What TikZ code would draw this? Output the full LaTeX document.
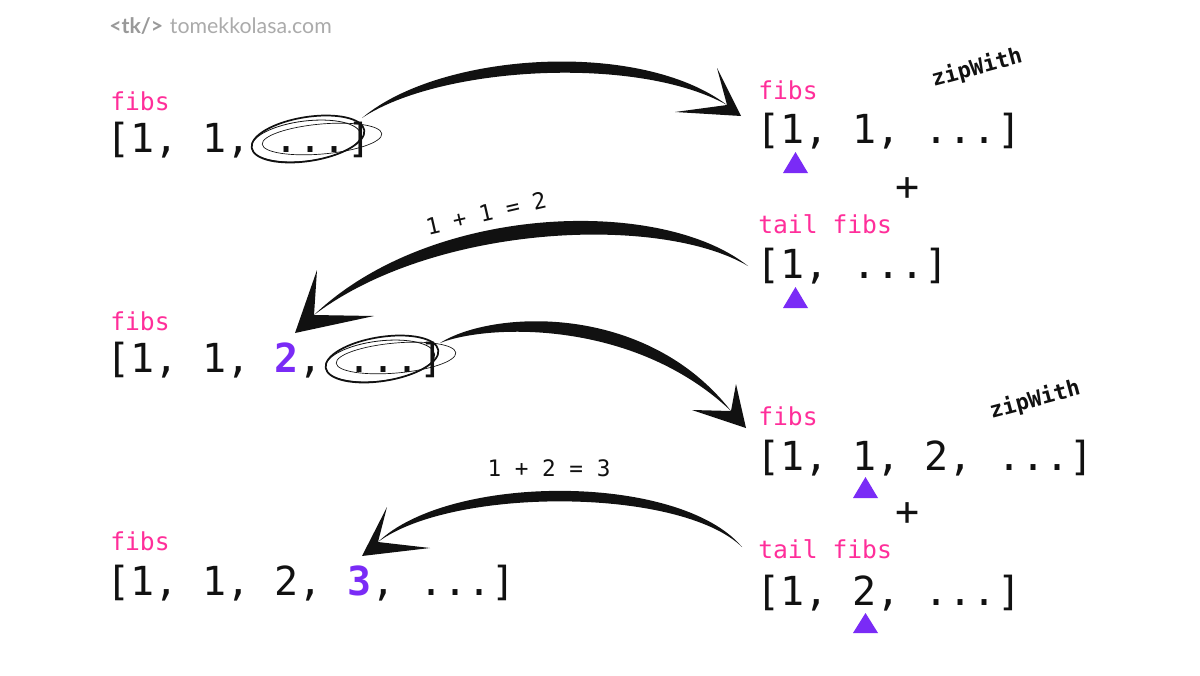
\documentclass[tikz,border=0pt]{standalone}
\usepackage{fontspec}
\setmainfont{DejaVu Sans Mono}
\newfontfamily\wmfont{Lato}
\definecolor{fibpink}{HTML}{FF2E9A}
\definecolor{fibpurple}{HTML}{7A2BF6}
\definecolor{wmgray}{HTML}{ABABAB}
\definecolor{wmdark}{HTML}{999999}
\definecolor{ink}{HTML}{111111}
\begin{document}
\begin{tikzpicture}[x=0.75pt,y=-0.75pt,
  listtxt/.style={anchor=base west,inner sep=0pt,font=\fontsize{30}{34}\selectfont,text=ink},
  nametxt/.style={anchor=base west,inner sep=0pt,font=\fontsize{18.5}{22}\selectfont,text=fibpink},
  sumtxt/.style={inner sep=0pt,font=\fontsize{17}{20}\selectfont,text=ink},
  ziptxt/.style={inner sep=0pt,font=\fontsize{16.5}{20}\selectfont\bfseries,text=ink,rotate=15},
  plustxt/.style={inner sep=0pt,font=\fontsize{30}{34}\selectfont,text=ink},
  ptr/.style={fill=fibpurple},
  inkfill/.style={fill=ink},
  scrib/.style={draw=ink,line width=0.8pt}]
\useasboundingbox[fill=white] (0,0) rectangle (1200,675);

% watermark
\node[anchor=base west,inner sep=0pt,font=\wmfont\fontsize{16}{19}\selectfont,text=wmgray] (wm) at (109,33)
  {{\bfseries\color{wmdark}<tk/>}\hspace{5pt}tomekkolasa.com};

% left column
\node[nametxt] (n1) at (110,110) {fibs};
\node[listtxt] (l1) at (106,152) {[1, 1, ...]};
\node[nametxt] (n2) at (110,330) {fibs};
\node[listtxt] (l2) at (106,372) {[1, 1, {\bfseries\color{fibpurple}2}, ...]};
\node[nametxt] (n3) at (110,550) {fibs};
\node[listtxt] (l3) at (106,595) {[1, 1, 2, {\bfseries\color{fibpurple}3}, ...]};

% right column, block 1
\node[nametxt] (r1n) at (758,99) {fibs};
\node[listtxt] (r1l) at (756,143) {[1, 1, ...]};
\node[plustxt] (r1p) at (908,189) {+};
\node[nametxt] (r1tn) at (758,233) {tail fibs};
\node[listtxt] (r1tl) at (756,278) {[1, ...]};
\node[ziptxt] (z1) at (977,68) {zipWith};
\fill[ptr] (783,173) -- (808,173) -- (795.5,152) -- cycle;
\fill[ptr] (783,308) -- (808,308) -- (795.5,287) -- cycle;

% right column, block 2
\node[nametxt] (r2n) at (758,425) {fibs};
\node[listtxt] (r2l) at (756,470) {[1, 1, 2, ...]};
\node[plustxt] (r2p) at (908,514) {+};
\node[nametxt] (r2tn) at (758,558) {tail fibs};
\node[listtxt] (r2tl) at (756,605) {[1, 2, ...]};
\node[ziptxt] (z2) at (1035,400) {zipWith};
\fill[ptr] (853,498) -- (878,498) -- (865.5,477) -- cycle;
\fill[ptr] (853,633) -- (878,633) -- (865.5,613) -- cycle;

% sum labels
\node[sumtxt,rotate=13] (s1) at (486,213) {1 + 1 = 2};
\node[sumtxt] (s2) at (549,468) {1 + 2 = 3};

% scribbled ellipses
\draw[scrib,line width=1.3pt,rotate around={9:(308,139)}] (308,139) ellipse [x radius=57,y radius=22];
\draw[scrib,line width=0.6pt,rotate around={7:(306,141)}] (306,141) ellipse [x radius=55,y radius=20];
\draw[scrib,line width=0.5pt,rotate around={5:(322,139)}] (322,139) ellipse [x radius=60,y radius=15];

\draw[scrib,line width=1.3pt,rotate around={9:(382,359)}] (382,359) ellipse [x radius=57,y radius=22];
\draw[scrib,line width=0.6pt,rotate around={7:(380,361)}] (380,361) ellipse [x radius=55,y radius=20];
\draw[scrib,line width=0.5pt,rotate around={5:(396,358)}] (396,358) ellipse [x radius=60,y radius=15];

% arrow 1
\coordinate (a1s) at (362,118);
\coordinate (a1e) at (727,105);
\coordinate (a1t) at (741,116);
\coordinate (a1b1) at (717,68);
\coordinate (a1b2) at (675,112);
\fill[inkfill] (a1s) .. controls (440,52) and (640,39) .. (a1e) .. controls (638,55) and (440,66) .. (a1s) -- cycle;
\fill[inkfill] (a1t) -- (a1b1) -- (a1e) -- (a1b2) -- cycle;

% arrow 2
\coordinate (a2s) at (748,266);
\coordinate (a2e) at (314,315);
\coordinate (a2t) at (295,333);
\coordinate (a2b1) at (317,270);
\coordinate (a2b2) at (374,316);
\fill[inkfill] (a2s) .. controls (660,196) and (430,204) .. (a2e) .. controls (434,224) and (660,214) .. (a2s) -- cycle;
\fill[inkfill] (a2t) -- (a2b1) -- (a2e) -- (a2b2) -- cycle;

% arrow 3
\coordinate (a3s) at (440,343);
\coordinate (a3e) at (731,411);
\coordinate (a3t) at (746,428);
\coordinate (a3b1) at (736,384);
\coordinate (a3b2) at (692,410);
\fill[inkfill] (a3s) .. controls (492,310) and (646,302) .. (a3e) .. controls (634,319) and (488,324) .. (a3s) -- cycle;
\fill[inkfill] (a3t) -- (a3b1) -- (a3e) -- (a3b2) -- cycle;

% arrow 4
\coordinate (a4s) at (742,547);
\coordinate (a4e) at (378,542);
\coordinate (a4t) at (362,556);
\coordinate (a4b1) at (387,507);
\coordinate (a4b2) at (430,548);
\fill[inkfill] (a4s) .. controls (680,473) and (450,473) .. (a4e) .. controls (452,487) and (680,487) .. (a4s) -- cycle;
\fill[inkfill] (a4t) -- (a4b1) -- (a4e) -- (a4b2) -- cycle;
\end{tikzpicture}
\end{document}
